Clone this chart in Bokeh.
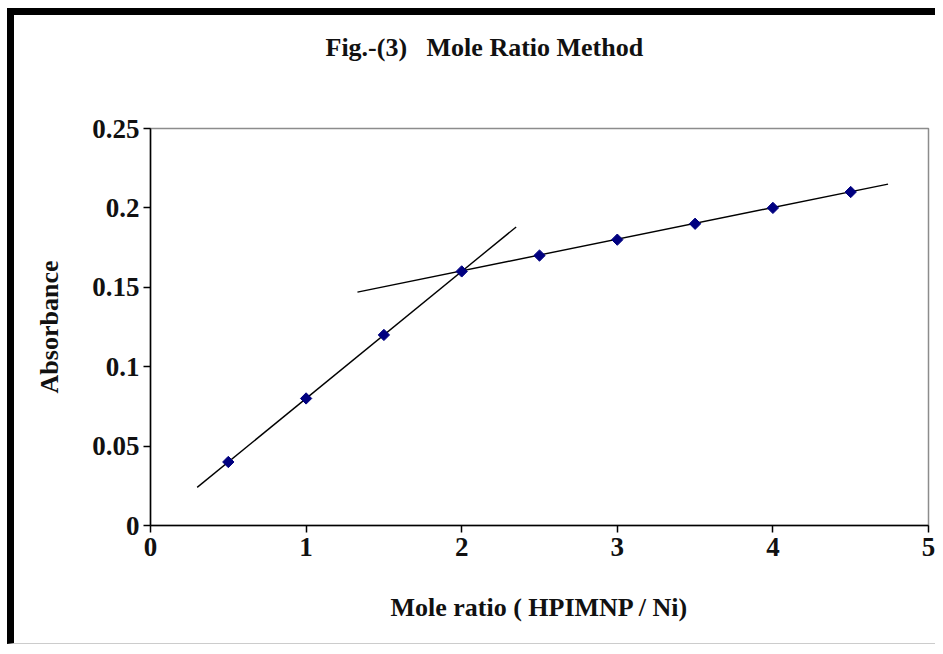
import math
from bokeh.plotting import figure
from bokeh.models import Range1d, FixedTicker, Title
from bokeh.embed import file_html
from bokeh.resources import INLINE

# data
mole_ratio = [0.5, 1.0, 1.5, 2.0, 2.5, 3.0, 3.5, 4.0, 4.5]
absorbance = [0.04, 0.08, 0.12, 0.16, 0.17, 0.18, 0.19, 0.20, 0.21]
fit1_x = [0.30, 2.35]
fit1_y = [0.024, 0.188]
fit2_x = [1.33, 4.74]
fit2_y = [0.147, 0.215]
x_ticks = [0, 1, 2, 3, 4, 5]
y_ticks = [0, 0.05, 0.1, 0.15, 0.2, 0.25]
y_tick_labels = ["0", "0.05", "0.1", "0.15", "0.2", "0.25"]
title_text = "Fig.-(3)\u00a0\u00a0 Mole Ratio Method"

FONT = "Liberation Serif"
W, H = 928, 636

p = figure(width=W, height=H, output_backend="svg", toolbar_location=None,
           title=None,
           x_range=Range1d(0, 5), y_range=Range1d(0, 0.25),
           min_border_left=136, min_border_right=14, min_border_top=113,
           min_border_bottom=126)
p.styles = {"margin-left": "7px", "margin-top": "8px",
            "border-top": "7px solid black", "border-left": "7px solid black",
            "border-bottom": "1px solid #cccccc"}

# empty spacer between the frame and the title
spacer = Title(text="\u00a0", text_font_size="1px", standoff=64)
p.add_layout(spacer, "above")
main_title = Title(text=title_text, text_font=FONT, text_font_size="26px",
                   text_font_style="bold", text_color="#111111",
                   align="left", offset=175, standoff=0)
p.add_layout(main_title, "above")

p.background_fill_color = "white"
p.border_fill_color = "white"
p.outline_line_color = "#8c8c8c"
p.outline_line_width = 1.5
p.xgrid.visible = False
p.ygrid.visible = False

p.line(fit1_x, fit1_y, line_color="black", line_width=1.4)
p.line(fit2_x, fit2_y, line_color="black", line_width=1.4)
p.scatter(mole_ratio, absorbance, marker="square", size=8, angle=math.pi / 4,
          fill_color="#000080", line_color="#000080")

for ax in (p.xaxis[0], p.yaxis[0]):
    ax.axis_line_color = "black"
    ax.axis_line_width = 1.5
    ax.major_tick_line_color = "black"
    ax.major_tick_line_width = 1.5
    ax.major_tick_out = 7
    ax.major_tick_in = 0
    ax.minor_tick_line_color = None
    ax.major_label_text_font = FONT
    ax.major_label_text_font_size = "27px"
    ax.major_label_text_font_style = "bold"
    ax.major_label_text_color = "#111111"
    ax.axis_label_text_font = FONT
    ax.axis_label_text_font_size = "26px"
    ax.axis_label_text_font_style = "bold"
    ax.axis_label_text_color = "#111111"

p.xaxis.ticker = FixedTicker(ticks=x_ticks)
p.yaxis.ticker = FixedTicker(ticks=y_ticks)
p.yaxis.major_label_overrides = {t: s for t, s in zip(y_ticks, y_tick_labels)}
p.xaxis.major_label_standoff = 5
p.yaxis.major_label_standoff = 4
p.xaxis.axis_label = "Mole ratio ( HPIMNP / Ni)"
p.yaxis.axis_label = "Absorbance"
p.xaxis.axis_label_standoff = 34
p.yaxis.axis_label_standoff = 25

open("out.html", "w").write(file_html(p, INLINE))
